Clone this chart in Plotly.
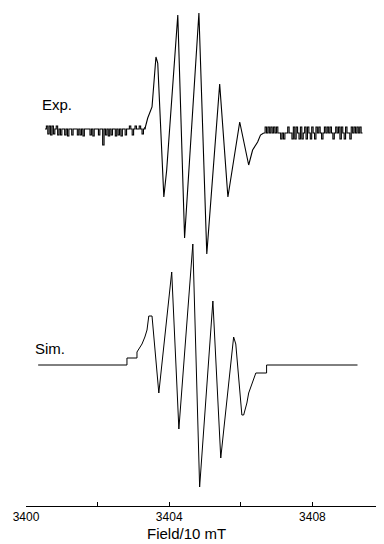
import numpy as np
import plotly.graph_objects as go

# ---------------- data (field in 10 mT units, intensity in arbitrary units) ----------------
# Experimental spectrum: noisy baseline left, resolved lines, noisy baseline right
exp_noise_left = [1, 4, -4, 4, -5, 4, -4, 1, 4, -5, 1, -5, 1, 1, -5, 1, -6, 1, 1, -5, 1, 1, 1, -5,
                  1, -5, 1, -6, 1, 1, 1, 1, -5, 1, -6, 1, 1, 1, -5, 1, 1, -15, 1, -5, 1, -6, 1, -5,
                  1, 1, -6, 1, -5, 1, -6, 1, 1, -5, 1, 1, 4, 1, -5, 1, 4, 1, 1, 4, 1, -4, 1, 3]
exp_noise_left_start, exp_noise_left_end = 3400.53, 3403.32

exp_lines_field = [3403.32, 3403.40, 3403.52, 3403.63, 3403.68, 3403.85, 3403.93, 3404.24, 3404.43,
                   3404.83, 3405.05, 3405.41, 3405.64, 3405.97, 3406.22, 3406.33, 3406.47, 3406.55,
                   3406.64]
exp_lines_int = [1, 12, 23, 73, 67, -67, -40, 115, -108,
                 117, -124, 46, -67, 8, -35, -20, -12, -5, -3]

exp_noise_right = [-3, 3, -3, 3, -3, 3, -3, 3, -3, 3, -3, -3, -9, -3, -9, -3, -3, 3, -3, -3, -9, 3,
                   -9, 3, -3, -9, 3, -9, -3, 3, -9, 3, -3, -9, 3, -3, -9, 3, -3, 3, -3, -9, -3, 3,
                   -3, 3, -3, 3, -3, -9, -3, 3, -3, 3, -9, 3, -3, -9, 3, -3, -3, -9, 3, -3, 3, -3,
                   3, -3, 3, -3, -3]
exp_noise_right_start, exp_noise_right_end = 3406.64, 3409.40

# Simulated spectrum
sim_field = [3400.34, 3402.82, 3402.82, 3403.10, 3403.10, 3403.24, 3403.32, 3403.38, 3403.43,
             3403.52, 3403.71, 3404.07, 3404.27, 3404.66, 3404.85, 3405.22, 3405.44, 3405.77,
             3405.80, 3405.86, 3406.03, 3406.08, 3406.17, 3406.22, 3406.30, 3406.33, 3406.42,
             3406.72, 3406.72, 3409.26]
sim_int = [0, 0, 7, 7, 13, 21, 28, 35, 49,
           49, -28, 93, -64, 121, -122, 64, -93, 21,
           28, 21, -50, -50, -38, -28, -20, -15, -8,
           -8, 0, 0]

tick_vals = [3400, 3402, 3404, 3406, 3408, 3410]
tick_text = ["3400", "", "3404", "", "3408", ""]
x_title = "Field/10 mT"
labels = ["Exp.", "Sim."]

# ---------------- build traces ----------------
noise_left_field = list(np.linspace(exp_noise_left_start, exp_noise_left_end, len(exp_noise_left)))
noise_right_field = list(np.linspace(exp_noise_right_start, exp_noise_right_end, len(exp_noise_right)))

exp_offset = 0
sim_offset = -235

line_exp = dict(color="black", width=1.1)
fig = go.Figure()
fig.add_trace(go.Scatter(x=noise_left_field, y=[v + exp_offset for v in exp_noise_left],
                         mode="lines", line=dict(line_exp, shape="hv"), hoverinfo="skip"))
fig.add_trace(go.Scatter(x=exp_lines_field, y=[v + exp_offset for v in exp_lines_int],
                         mode="lines", line=line_exp, hoverinfo="skip"))
fig.add_trace(go.Scatter(x=noise_right_field, y=[v + exp_offset for v in exp_noise_right],
                         mode="lines", line=dict(line_exp, shape="hv"), hoverinfo="skip"))
fig.add_trace(go.Scatter(x=sim_field, y=[v + sim_offset for v in sim_int], mode="lines",
                         line=dict(color="black", width=1), hoverinfo="skip"))

font = "Liberation Sans, Arial, Helvetica, sans-serif"
fig.add_annotation(x=3400.39, y=exp_offset + 26, xref="x", yref="y", text=labels[0],
                   showarrow=False, xanchor="left", yanchor="middle",
                   font=dict(family=font, size=15, color="black"))
fig.add_annotation(x=3400.19, y=sim_offset + 17, xref="x", yref="y", text=labels[1],
                   showarrow=False, xanchor="left", yanchor="middle",
                   font=dict(family=font, size=15, color="black"))
fig.add_annotation(x=0.448, y=-0.056, xref="paper", yref="paper", text=x_title,
                   showarrow=False, xanchor="center", yanchor="middle",
                   font=dict(family=font, size=15, color="black"))

# the page body adds an 8 px offset, so the figure is 8 px smaller on each axis
fig.update_layout(
    width=376, height=536,
    margin=dict(l=18, r=0, t=0, b=38, autoexpand=False),
    paper_bgcolor="white", plot_bgcolor="white",
    showlegend=False,
    font=dict(family=font, size=12, color="black"),
)
fig.update_xaxes(range=[3400, 3410], tickvals=tick_vals, ticktext=tick_text,
                 showline=True, linecolor="black", linewidth=1, automargin=False,
                 ticks="inside", ticklen=4, tickcolor="black", tickwidth=1,
                 showgrid=False, zeroline=False, tickfont=dict(size=12, family=font))
fig.update_yaxes(range=[-376, 122], visible=False, showgrid=False, zeroline=False)

fig.write_html("out.html")
